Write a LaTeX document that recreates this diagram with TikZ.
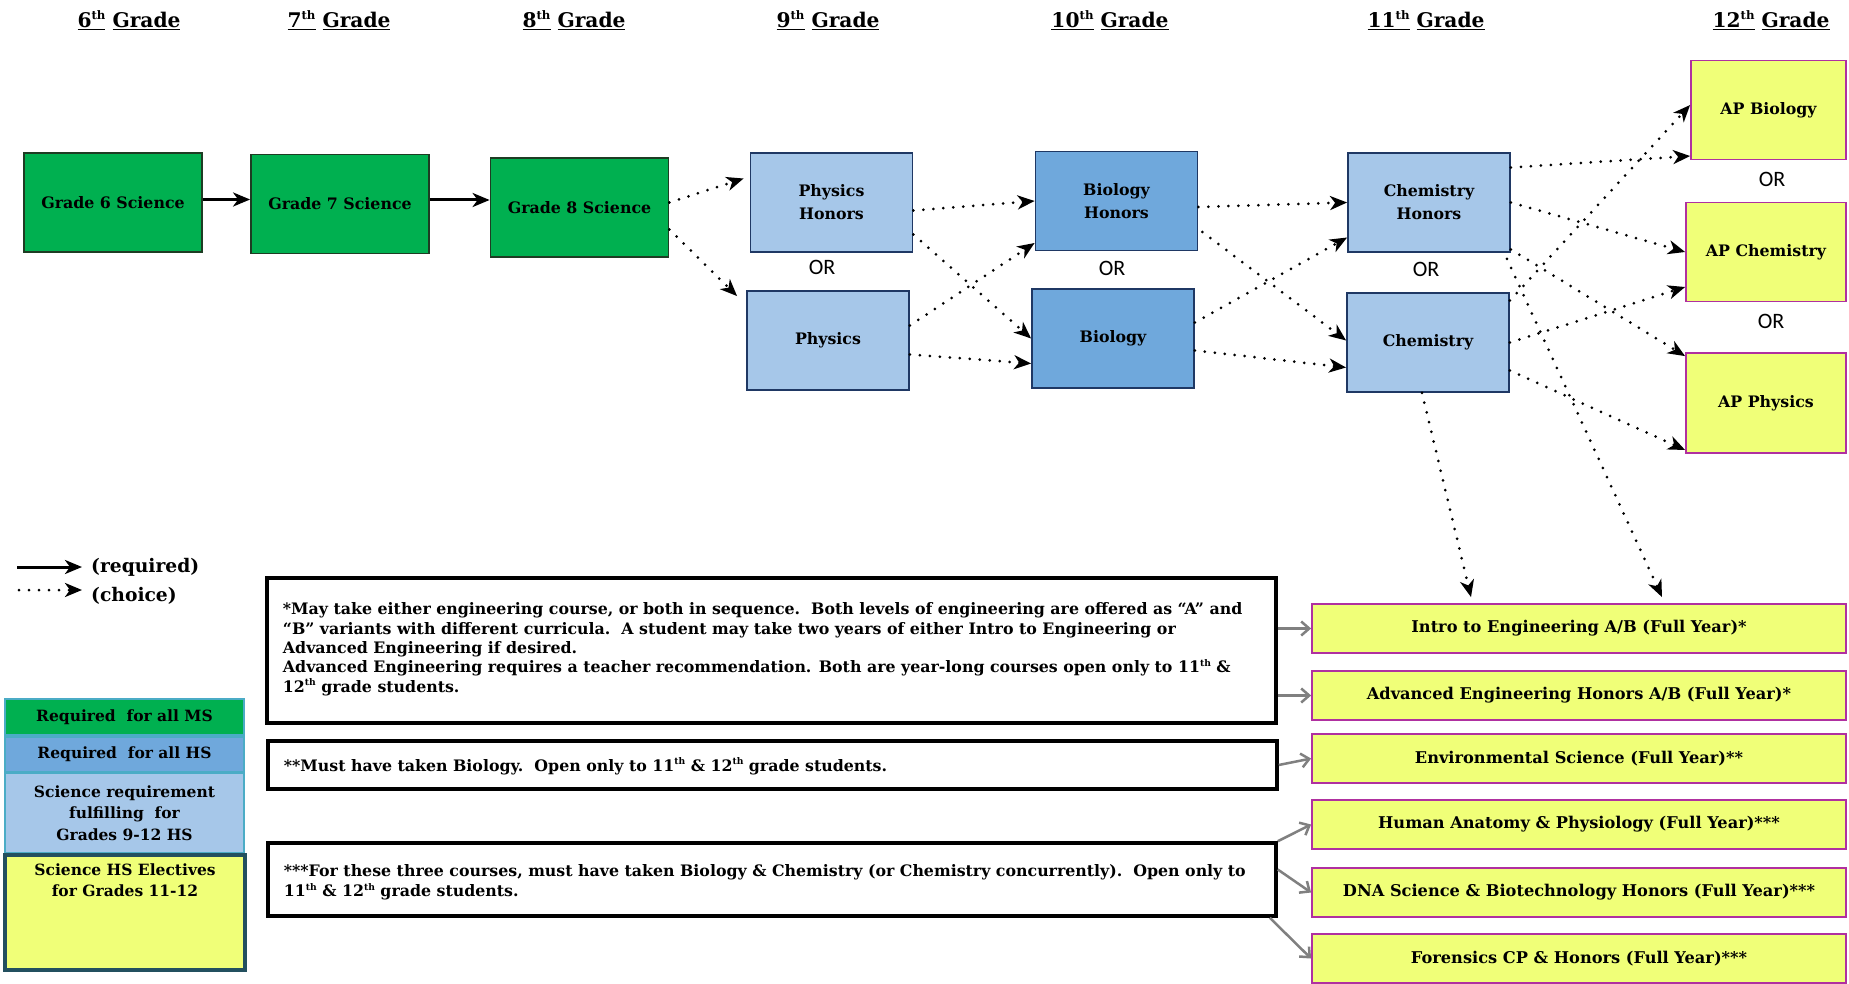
\documentclass[tikz,border=0pt]{standalone}
\usepackage{fontspec}
\usepackage{graphicx}
\setmainfont{DejaVu Serif}
\newfontfamily\orfont{Carlito}
\usetikzlibrary{arrows.meta,calc}

% small raised ordinal suffix (th)
\newcommand\ordinal[1]{\raisebox{0.42em}{\scalebox{0.58}{#1}}}

\definecolor{msgreen}{RGB}{0,176,80}
\definecolor{msedge}{RGB}{30,60,35}
\definecolor{hsblue}{RGB}{111,168,220}
\definecolor{lightblue}{RGB}{166,199,233}
\definecolor{navyedge}{RGB}{31,56,100}
\definecolor{elecyellow}{RGB}{240,255,120}
\definecolor{elecedge}{RGB}{176,48,160}
\definecolor{tealedge}{RGB}{75,172,198}
\definecolor{slateedge}{RGB}{35,80,95}
\definecolor{linkgray}{RGB}{128,128,128}

\begin{document}
\begin{tikzpicture}[x=1pt,y=-1pt,
  boxfont/.style={font=\bfseries\fontsize{15.8}{23}\selectfont},
  course/.style={boxfont, align=center, inner sep=0pt, line width=1.8pt},
  msbox/.style={course, draw=msedge, fill=msgreen, minimum width=178pt, minimum height=99pt},
  hsbox/.style={course, draw=navyedge, fill=hsblue, minimum width=162pt, minimum height=99pt},
  fulbox/.style={course, draw=navyedge, fill=lightblue, minimum width=162pt, minimum height=99pt},
  apbox/.style={course, draw=elecedge, fill=elecyellow, minimum width=160pt, minimum height=99pt},
  elecbox/.style={course, draw=elecedge, fill=elecyellow, minimum width=534pt, minimum height=49pt,
    font=\bfseries\fontsize{16.2}{19}\selectfont},
  notebox/.style={draw=black, line width=3.5pt, fill=white, inner sep=0pt},
  notetext/.style={inner sep=0pt, align=left, font=\bfseries\fontsize{15.8}{19.3}\selectfont},
  header/.style={font=\bfseries\fontsize{20.2}{24}\selectfont, inner sep=0pt, anchor=base},
  ortext/.style={font=\orfont\fontsize{22}{26}\selectfont, inner sep=0pt},
  keybox/.style={align=center, inner sep=0pt, line width=1.6pt, draw=tealedge,
    minimum width=239pt, font=\bfseries\fontsize{15.5}{21.3}\selectfont},
  keytext/.style={inner sep=0pt, anchor=west, font=\bfseries\fontsize{18.7}{22}\selectfont},
  choice/.style={line width=3pt, dash pattern=on 0pt off 10pt, line cap=round,
    -{Stealth[length=17pt,width=14pt,inset=5pt]}},
  required/.style={line width=3pt, -{Stealth[length=17pt,width=14pt,inset=5pt]}},
  feed/.style={draw=linkgray, line width=2.5pt, -{Straight Barb[length=8pt,width=14pt]}},
]

% canvas
\fill[white] (0,0) rectangle (1849,984);
\useasboundingbox (0,0) rectangle (1849,984);

% grade headers
\node[header] (h6)  at (129,28)  {\underline{6\ordinal{th}} \underline{Grade}};
\node[header] (h7)  at (339,28)  {\underline{7\ordinal{th}} \underline{Grade}};
\node[header] (h8)  at (574,28)  {\underline{8\ordinal{th}} \underline{Grade}};
\node[header] (h9)  at (828,28)  {\underline{9\ordinal{th}} \underline{Grade}};
\node[header] (h10) at (1110,28) {\underline{10\ordinal{th}} \underline{Grade}};
\node[header] (h11) at (1426,28) {\underline{11\ordinal{th}} \underline{Grade}};
\node[header] (h12) at (1771,28) {\underline{12\ordinal{th}} \underline{Grade}};

% middle school courses
\node[msbox] (g6) at (113,202.5) {Grade 6 Science};
\node[msbox] (g7) at (340,204)   {Grade 7 Science};
\node[msbox] (g8) at (579.5,207.5) {Grade 8 Science};

% high school core sequence
\node[fulbox] (physH) at (831.5,202.5) {Physics\\Honors};
\node[fulbox] (phys)  at (828,340.5)   {Physics};
\node[hsbox]  (bioH)  at (1116.5,201)  {Biology\\Honors};
\node[hsbox]  (bio)   at (1113,338.5)  {Biology};
\node[fulbox] (chemH) at (1429,202.5)  {Chemistry\\Honors};
\node[fulbox] (chem)  at (1428,342.5)  {Chemistry};

% AP options
\node[apbox, minimum width=155pt] (apBio) at (1768.5,110) {AP Biology};
\node[apbox] (apChem) at (1766,252) {AP Chemistry};
\node[apbox, minimum height=100pt] (apPhys) at (1766,403) {AP Physics};

% OR labels
\node[ortext] (or9)  at (822,267)  {OR};
\node[ortext] (or10) at (1112,268) {OR};
\node[ortext] (or11) at (1426,269) {OR};
\node[ortext] (or12a) at (1772,179) {OR};
\node[ortext] (or12b) at (1771,321) {OR};

% electives
\node[elecbox] (intro) at (1579,628.5) {Intro to Engineering A/B (Full Year)*};
\node[elecbox] (adv)   at (1579,695.5) {Advanced Engineering Honors A/B (Full Year)*};
\node[elecbox] (env)   at (1579,758.5) {Environmental Science (Full Year)**};
\node[elecbox] (hum)   at (1579,824.5) {Human Anatomy \& Physiology (Full Year)***};
\node[elecbox] (dna)   at (1579,892.5) {DNA Science \& Biotechnology Honors (Full Year)***};
\node[elecbox] (for)   at (1579,958.5) {Forensics CP \& Honors (Full Year)***};

% footnote boxes
\node[notebox, minimum width=1009pt, minimum height=145pt] (n1) at (771.5,650.5) {};
\node[notebox, minimum width=1009pt, minimum height=48pt]  (n2) at (772.5,765) {};
\node[notebox, minimum width=1008pt, minimum height=73pt]  (n3) at (772,879.5) {};

\node[notetext, anchor=north west] (t1) at ($(n1.north west)+(17.5,26.5)$)
  {*May take either engineering course, or both in sequence.\ \ Both levels of engineering are offered as “A” and\\
   “B” variants with different curricula.\ \ A student may take two years of either Intro to Engineering or\\
   Advanced Engineering if desired.\\
   Advanced Engineering requires a teacher recommendation. Both are year-long courses open only to 11\ordinal{th} \&\\
   12\ordinal{th} grade students.};
\node[notetext, anchor=west] (t2) at ($(n2.west)+(17.5,1)$)
  {**Must have taken Biology.\ \ Open only to 11\ordinal{th} \& 12\ordinal{th} grade students.};
\node[notetext, anchor=west, font=\bfseries\fontsize{15.8}{20}\selectfont] (t3) at ($(n3.west)+(17.5,3)$)
  {***For these three courses, must have taken Biology \& Chemistry (or Chemistry concurrently).\ \ Open only to\\
   11\ordinal{th} \& 12\ordinal{th} grade students.};

% legend
\coordinate (rq0) at (17,567);
\coordinate (rq1) at (82,567);
\draw[required] (rq0) -- (rq1);
\node[keytext] (rqt) at (91,567) {(required)};
\coordinate (ch0) at (19,590);
\coordinate (ch1) at (82,590);
\draw[choice] (ch0) -- (ch1);
\node[keytext] (cht) at (91,596) {(choice)};

\node[keybox, fill=msgreen, minimum height=36pt] (keyms) at (124.5,717) {Required~ for all MS};
\node[keybox, fill=hsblue, minimum height=35pt] (keyhs) at (124.5,754.5) {Required~ for all HS};
\node[keybox, fill=lightblue, minimum height=80pt] (keysci) at (124.5,813)
  {Science requirement\\fulfilling~ for\\Grades 9-12 HS};
\node[keybox, draw=slateedge, line width=4pt, fill=elecyellow, minimum width=240pt, minimum height=115pt]
  (keyel) at (125,912.5) {};
\node[keybox, draw=none, fill=none, anchor=north, minimum width=0pt] (keyelt) at ($(keyel.north)+(0,10)$)
  {Science HS Electives\\for Grades 11-12};

% required path through middle school
\coordinate (out6) at ($(g6.east)+(0,-3)$);
\coordinate (out7) at ($(g7.east)+(0,-4)$);
\draw[required] (out6) -- (out6 -| g7.west);
\draw[required] (out7) -- (out7 -| g8.west);

% choices from grade 8 onward
\draw[choice] ($(g8.east)+(0,-5)$) -- ($(physH.west)+(-6,-24)$);
\draw[choice] ($(g8.east)+(0,22)$) -- ($(phys.north west)+(-9,6)$);

\draw[choice] ($(physH.east)+(0,8)$) -- (bioH.west);
\draw[choice] ($(physH.east)+(0,32)$) -- (bio.west);
\draw[choice] ($(phys.east)+(0,-15)$) -- ($(bioH.west)+(0,42)$);
\draw[choice] ($(phys.east)+(0,14)$) -- ($(bio.west)+(0,25)$);

\draw[choice] ($(bioH.east)+(0,6)$) -- (chemH.west);
\draw[choice] ($(bioH.east)+(4,31)$) -- ($(chem.west)+(0,-2)$);
\draw[choice] ($(bio.east)+(0,-16)$) -- ($(chemH.west)+(0,35)$);
\draw[choice] ($(bio.east)+(0,12)$) -- ($(chem.west)+(0,25)$);

\draw[choice] ($(chemH.east)+(0,-35)$) -- ($(apBio.west)+(0,46)$);
\draw[choice] (chemH.east) -- (apChem.west);
\draw[choice] ($(chemH.east)+(0,47)$) -- ($(apPhys.north west)+(0,4)$);
\draw[choice] ($(chemH.south east)+(-4,6)$) -- ($(intro.north)+(83,-6)$);

\draw[choice] ($(chem.east)+(0,-42)$) -- ($(apBio.west)+(0,-5)$);
\draw[choice] (chem.east) -- ($(apChem.west)+(0,35)$);
\draw[choice] ($(chem.east)+(0,28)$) -- ($(apPhys.west)+(0,47)$);
\draw[choice] ($(chem.south)+(-6,0)$) -- ($(intro.north)+(-108,-6)$);

% footnotes to electives
\draw[feed] (n1.east |- intro.west) -- (intro.west);
\draw[feed] (n1.east |- adv.west) -- (adv.west);
\draw[feed] (n2.east) -- (env.west);
\draw[feed] (n3.north east) -- (hum.west);
\draw[feed] ($(n3.east)+(0,-10)$) -- (dna.west);
\draw[feed] ($(n3.south east)+(-8,0)$) -- (for.west);

\end{tikzpicture}
\end{document}
